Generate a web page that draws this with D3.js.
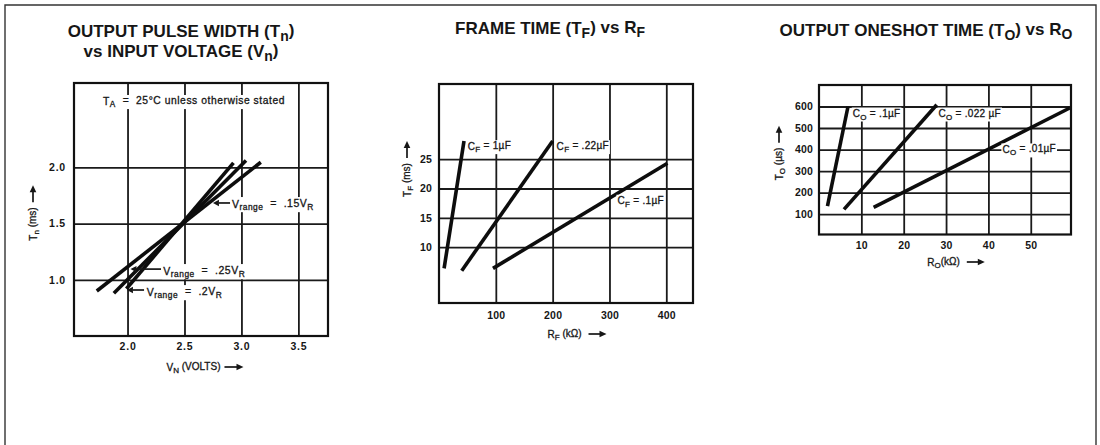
<!DOCTYPE html>
<html><head><meta charset="utf-8">
<script src="https://cdn.jsdelivr.net/npm/d3@7"></script>
<style>
html,body{margin:0;padding:0;background:#fff;}
svg{display:block;font-family:"Liberation Sans",Arial,Helvetica,sans-serif;}
text{white-space:pre;fill:#161616;}
text.thin{stroke:#161616;stroke-width:0.3px;}
</style></head><body>
<svg id="c" width="1100" height="445"></svg>
<script>
// ---------- DATA ----------
// Panel 1: Output pulse width Tn (ms) vs input voltage Vn (volts)
const p1Names = ["Vrange = .25VR", "Vrange = .2VR", "Vrange = .15VR"];
const p1V = [[1.73, 3.17], [1.88, 3.04], [1.99, 2.93]];
const p1T = [[0.90, 2.045], [0.88, 2.06], [0.92, 2.04]];
const p1XTicks = [2.0, 2.5, 3.0, 3.5];
const p1YTicks = [1.0, 1.5, 2.0];

// Panel 2: Frame time TF (ms) vs RF (kΩ)
const p2Names = ["CF = 1µF", "CF = .22µF", "CF = .1µF"];
const p2R = [[9, 44], [40, 200], [95, 402]];
const p2T = [[6.4, 28.1], [6.0, 28.1], [6.4, 24.3]];
const p2XTicks = [100, 200, 300, 400];
const p2YTicks = [10, 15, 20, 25];

// Panel 3: Output oneshot time TO (µs) vs RO (kΩ)
const p3Names = ["CO = .1µF", "CO = .022 µF", "CO = .01µF"];
const p3R = [[2.0, 6.85], [5.9, 27.8], [12.9, 59.2]];
const p3T = [[137, 600], [122, 608], [131, 593]];
const p3XTicks = [10, 20, 30, 40, 50];
const p3YTicks = [100, 200, 300, 400, 500, 600];

// ---------- LAYOUT ----------
const svg = d3.select("#c");
const INK = "#161616";

svg.append("path").attr("d", "M5,445V5H1096V445")
  .attr("fill", "none").attr("stroke", "#333").attr("stroke-width", 1.4);

function rich(sel, parts, subSize) {
  let prevSub = false;
  parts.forEach(([t, sub]) => {
    const ts = sel.append("tspan").text(t);
    if (sub) ts.attr("font-size", subSize || "80%");
    if (sub && !prevSub) ts.attr("dy", "0.3em");
    else if (!sub && prevSub) ts.attr("dy", "-0.3em");
    prevSub = sub;
  });
  return sel;
}

function drawPanel(L, xTicks, yTicks, fx, fy) {
  const x = d3.scaleLinear().domain(L.xDomain).range([L.left, L.right]);
  const y = d3.scaleLinear().domain(L.yDomain).range([L.bottom, L.top]);
  const gx = svg.append("g").attr("transform", `translate(0,${L.bottom})`)
    .call(d3.axisBottom(x).tickValues(xTicks).tickFormat(fx)
      .tickSize(-(L.bottom - L.top)).tickPadding(L.xPad));
  const gy = svg.append("g").attr("transform", `translate(${L.left},0)`)
    .call(d3.axisLeft(y).tickValues(yTicks).tickFormat(fy)
      .tickSize(-(L.right - L.left)).tickPadding(L.yPad));
  [gx, gy].forEach(g => {
    g.attr("font-family", null).attr("font-size", null);
    g.select(".domain").remove();
    g.selectAll(".tick line").attr("stroke", "#1a1a1a").attr("stroke-width", 1.8);
    g.selectAll(".tick text").attr("font-size", 10.5).attr("font-weight", "bold")
      .attr("fill", INK).style("letter-spacing", L.tickLS || "0.2px");
  });
  svg.append("rect").attr("x", L.left).attr("y", L.top)
    .attr("width", L.right - L.left).attr("height", L.bottom - L.top)
    .attr("fill", "none").attr("stroke", "#111").attr("stroke-width", 2.2);
  return { x, y };
}

function drawLines(s, X, Y) {
  const line = d3.line().x(d => s.x(d[0])).y(d => s.y(d[1]));
  X.forEach((xs, i) => {
    const pts = xs.map((v, j) => [v, Y[i][j]]);
    svg.append("path").attr("d", line(pts)).attr("fill", "none")
      .attr("stroke", "#0d0d0d").attr("stroke-width", 3.6);
  });
}

function label(px, py, parts, size, anchor, ls) {
  const g = svg.append("g");
  const t = g.append("text").attr("class", "thin").attr("x", px).attr("y", py).attr("dy", "0.35em")
    .attr("font-size", size).attr("text-anchor", anchor || "start")
    .style("letter-spacing", ls || "0px");
  rich(t, parts);
  const b = t.node().getBBox();
  g.insert("rect", "text").attr("x", b.x - 1).attr("y", b.y).attr("width", b.width + 2)
    .attr("height", b.height).attr("fill", "#fff");
  return t;
}

function arrow(x1, y1, x2, y2, head) {
  const a = Math.atan2(y2 - y1, x2 - x1), h = head || 6, w = 3.2;
  const bx = x2 - h * Math.cos(a), by = y2 - h * Math.sin(a);
  svg.append("line").attr("x1", x1).attr("y1", y1).attr("x2", bx).attr("y2", by)
    .attr("stroke", INK).attr("stroke-width", 1.7);
  svg.append("path").attr("d",
    `M${x2},${y2}L${bx - w * Math.sin(a)},${by + w * Math.cos(a)}L${bx + w * Math.sin(a)},${by - w * Math.cos(a)}Z`)
    .attr("fill", INK);
}

function axisTitle(cx, cy, parts, size, rotate, gap, len) {
  const g = svg.append("g").attr("transform", `translate(${cx},${cy})${rotate ? " rotate(-90)" : ""}`);
  const t = g.append("text").attr("class", "thin").attr("font-size", size).attr("dy", "0.35em");
  rich(t, parts);
  const w = t.node().getComputedTextLength();
  const total = w + gap + len;
  t.attr("x", -total / 2);
  const x1 = -total / 2 + w + gap, x2 = x1 + len;
  g.append("line").attr("x1", x1).attr("x2", x2 - 6).attr("y1", 0).attr("y2", 0)
    .attr("stroke", INK).attr("stroke-width", 1.7);
  g.append("path").attr("d", `M${x2},0L${x2 - 7},-3.3L${x2 - 7},3.3Z`).attr("fill", INK);
}

function title(cx, cy, parts) {
  const t = svg.append("text").attr("x", cx).attr("y", cy).attr("text-anchor", "middle")
    .attr("font-size", 17).attr("font-weight", "bold");
  rich(t, parts, "82%");
}

// ---------- PANEL 1 ----------
const L1 = { left: 74, right: 328, top: 83, bottom: 336, xDomain: [1.53, 3.76], yDomain: [0.5, 2.75], xPad: 7, yPad: 8, tickLS: "0.8px" };
const s1 = drawPanel(L1, p1XTicks, p1YTicks, d3.format(".1f"), d3.format(".1f"));
drawLines(s1, p1V, p1T);
title(181, 37, [["OUTPUT PULSE WIDTH (T", 0], ["n", 1], [")", 0]]);
title(181, 57, [["vs INPUT VOLTAGE (V", 0], ["n", 1], [")", 0]]);
label(194, 101, [["T", 0], ["A", 1], ["  =  25°C unless otherwise stated", 0]], 10.3, "middle", "0.55px");
const p1Ann = [
  { name: 1, tx: 2.168, ty: 0.891, ax: 2.145, tip: 1.995, ay: 0.909 },
  { name: 0, tx: 2.314, ty: 1.078, ax: 2.294, tip: 2.026, ay: 1.095 },
  { name: 2, tx: 2.917, ty: 1.674, ax: 2.90, tip: 2.75, ay: 1.683 }
];
p1Ann.forEach(a => {
  const m = p1Names[a.name].match(/^V(range)(.*)V(R)$/);
  label(s1.x(a.tx), s1.y(a.ty), [["V", 0], [m[1], 1], [m[2].replace(" = ", "  =  "), 0], ["V", 0], [m[3], 1]], 10.5, "start", "0.5px");
  arrow(s1.x(a.ax), s1.y(a.ay), s1.x(a.tip), s1.y(a.ay), 6);
});
axisTitle(205, 367, [["V", 0], ["N", 1], [" (VOLTS)", 0]], 10, false, 4, 19);
axisTitle(33, 213, [["T", 0], ["n", 1], [" (ms)", 0]], 10, true, 5, 17);

// ---------- PANEL 2 ----------
const L2 = { left: 439, right: 693, top: 84, bottom: 303, xDomain: [0, 447], yDomain: [0.5, 37.8], xPad: 9, yPad: 7 };
const s2 = drawPanel(L2, p2XTicks, p2YTicks, d3.format("d"), d3.format("d"));
drawLines(s2, p2R, p2T);
title(550, 34, [["FRAME TIME (T", 0], ["F", 1], [") vs R", 0], ["F", 1]]);
const p2Ann = [{ rx: 50.5, ty: 27.2 }, { rx: 207, ty: 27.2 }, { rx: 314, ty: 17.9 }];
p2Ann.forEach((a, i) => {
  label(s2.x(a.rx), s2.y(a.ty), [["C", 0], ["F", 1], [p2Names[i].slice(2), 0]], 10, "start", "0.3px");
});
axisTitle(577, 334, [["R", 0], ["F", 1], [" (kΩ)", 0]], 10, false, 7, 18);
axisTitle(407, 169, [["T", 0], ["F", 1], [" (ms)", 0]], 10, true, 5, 17);

// ---------- PANEL 3 ----------
const L3 = { left: 819, right: 1071, top: 85, bottom: 234.5, xDomain: [0, 59.5], yDomain: [5, 700], xPad: 7, yPad: 6 };
const s3 = drawPanel(L3, p3XTicks, p3YTicks, d3.format("d"), d3.format("d"));
drawLines(s3, p3R, p3T);
title(926, 36, [["OUTPUT ONESHOT TIME (T", 0], ["O", 1], [") vs R", 0], ["O", 1]]);
const p3Ann = [{ rx: 7.96, ty: 567 }, { rx: 28.2, ty: 567 }, { rx: 43.3, ty: 400 }];
p3Ann.forEach((a, i) => {
  label(s3.x(a.rx), s3.y(a.ty), [["C", 0], ["O", 1], [p3Names[i].slice(2), 0]], 10, "start", "0.3px");
});
axisTitle(956, 262, [["R", 0], ["O", 1], ["(kΩ)", 0]], 10, false, 7, 18);
axisTitle(779, 153, [["T", 0], ["O", 1], [" (µs)", 0]], 10, true, 5, 17);
</script>
</body></html>
